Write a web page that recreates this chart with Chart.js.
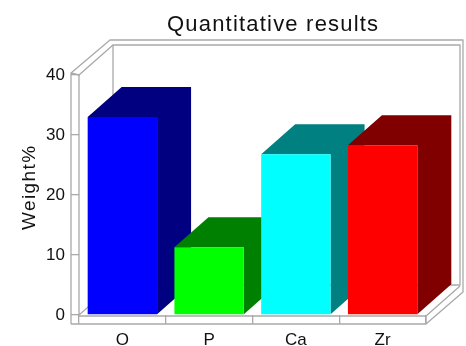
<!DOCTYPE html>
<html><head><meta charset="utf-8">
<script src="https://cdn.jsdelivr.net/npm/chart.js@4"></script>
<style>html,body{margin:0;padding:0;background:#fff;}canvas{display:block;}</style>
</head><body>
<canvas id="c" width="466" height="346"></canvas>
<script>
const categories = ['O', 'P', 'Ca', 'Zr'];
const weightPercent = [33.0, 11.3, 26.8, 28.3];
const yTicks = [0, 10, 20, 30, 40];
const frontColors = ['#0000ff', '#00ff00', '#00ffff', '#ff0000'];
const sideColors = ['#000080', '#008000', '#008080', '#800000'];
const chartTitle = 'Quantitative results';
const yTitle = 'Weight%';

const DX = 34, DY = -30;
const LINE = '#a9a9a9';
const TEXT = '#111111';

const frame3d = {
  id: 'frame3d',
  beforeDatasetsDraw(chart) {
    const ctx = chart.ctx;
    const {left: L, right: R, top: T, bottom: B} = chart.chartArea;
    ctx.save();
    ctx.strokeStyle = LINE; ctx.lineWidth = 1.3; ctx.lineJoin = 'round';
    const line = (pts, close) => {
      ctx.beginPath(); ctx.moveTo(pts[0][0], pts[0][1]);
      for (let i = 1; i < pts.length; i++) ctx.lineTo(pts[i][0], pts[i][1]);
      if (close) ctx.closePath();
      ctx.stroke();
    };
    // back wall inner
    line([[L + DX, B + DY], [L + DX, T + DY], [R + DX, T + DY], [R + DX, B + DY]], true);
    // outer outline
    line([[L - 8, B + 9], [L - 8, T - 2], [L + DX - 3, T + DY - 5], [R + DX + 3, T + DY - 5], [R + DX + 3, B + DY + 7], [R, B + 9], [L - 8, B + 9]]);
    // left wall top
    line([[L - 8, T - 2], [L, T], [L + DX, T + DY]]);
    // left wall inner edge and floor corner
    line([[L, T], [L, B], [L + DX, B + DY]]);
    // floor front top edge and right edge
    line([[L, B + 1], [R, B + 1], [R + DX, B + DY + 1]]);
    line([[R, B + 1], [R, B + 9]]);
    // bar extrusions (top + side faces)
    const meta = chart.getDatasetMeta(0);
    meta.data.forEach((bar, i) => {
      const p = bar.getProps(['x', 'y', 'width', 'base'], true);
      const l = p.x - p.width / 2, r = p.x + p.width / 2;
      ctx.fillStyle = sideColors[i];
      ctx.beginPath();
      ctx.moveTo(r, p.base); ctx.lineTo(r, p.y); ctx.lineTo(l, p.y);
      ctx.lineTo(l + DX, p.y + DY); ctx.lineTo(r + DX, p.y + DY); ctx.lineTo(r + DX, p.base + DY);
      ctx.closePath(); ctx.fill();
    });
    ctx.restore();
  },
  afterDraw(chart) {
    const ctx = chart.ctx;
    ctx.save();
    ctx.fillStyle = TEXT;
    ctx.textAlign = 'left'; ctx.textBaseline = 'alphabetic';
    ctx.font = '22px "Liberation Sans"';
    ctx.letterSpacing = '1.2px';
    ctx.fillText(chartTitle, 167, 31);
    ctx.font = '19px "Liberation Sans"';
    ctx.letterSpacing = '1.4px';
    ctx.translate(35, 230);
    ctx.rotate(-Math.PI / 2);
    ctx.fillText(yTitle, 0, 0);
    ctx.restore();
  }
};

const tickFont = {family: 'Liberation Sans', size: 17};

new Chart(document.getElementById('c'), {
  type: 'bar',
  data: {
    labels: categories,
    datasets: [{
      data: weightPercent,
      backgroundColor: frontColors,
      borderWidth: 0,
      barPercentage: 1.0,
      categoryPercentage: 0.8
    }]
  },
  options: {
    responsive: false,
    animation: false,
    devicePixelRatio: 1,
    layout: {padding: {top: 75, right: 40, left: 0, bottom: 0}},
    plugins: {legend: {display: false}, title: {display: false}, tooltip: {enabled: false}},
    scales: {
      x: {
        grid: {drawOnChartArea: false, drawTicks: true, tickLength: 9, color: LINE, lineWidth: 1.3, offset: true},
        border: {display: false},
        ticks: {padding: 6, color: TEXT, font: tickFont, maxRotation: 0},
        afterFit(s) { s.height = 31; }
      },
      y: {
        min: 0, max: 40,
        grid: {drawOnChartArea: false, drawTicks: true, tickLength: 8, color: LINE, lineWidth: 1.3},
        border: {display: false},
        ticks: {stepSize: 10, padding: 6, color: TEXT, font: tickFont},
        afterBuildTicks(s) { s.ticks = yTicks.map(v => ({value: v})); },
        afterFit(s) { s.width = 79; }
      }
    }
  },
  plugins: [frame3d]
});
</script>
</body></html>
